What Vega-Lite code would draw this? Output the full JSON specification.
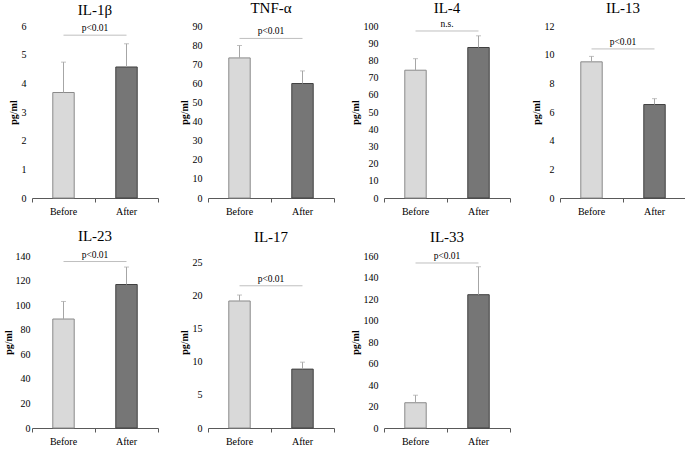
{
  "$schema": "https://vega.github.io/schema/vega-lite/v6.json",
  "padding": {"left": 3, "top": 0, "right": 0, "bottom": 0},
  "background": "white",
  "datasets": {
    "bars": [
      {"cytokine": "IL-1β", "group": "Before", "mean": 3.68, "upper": 4.74},
      {"cytokine": "IL-1β", "group": "After", "mean": 4.57, "upper": 5.38},
      {"cytokine": "TNF-α", "group": "Before", "mean": 73.3, "upper": 79.8},
      {"cytokine": "TNF-α", "group": "After", "mean": 59.9, "upper": 66.5},
      {"cytokine": "IL-4", "group": "Before", "mean": 74.3, "upper": 81.0},
      {"cytokine": "IL-4", "group": "After", "mean": 87.5, "upper": 94.3},
      {"cytokine": "IL-13", "group": "Before", "mean": 9.5, "upper": 9.88},
      {"cytokine": "IL-13", "group": "After", "mean": 6.52, "upper": 6.93},
      {"cytokine": "IL-23", "group": "Before", "mean": 88.7, "upper": 103},
      {"cytokine": "IL-23", "group": "After", "mean": 116.8, "upper": 131},
      {"cytokine": "IL-17", "group": "Before", "mean": 19.2, "upper": 20.1},
      {"cytokine": "IL-17", "group": "After", "mean": 8.9, "upper": 9.95},
      {"cytokine": "IL-33", "group": "Before", "mean": 23.5, "upper": 30.5},
      {"cytokine": "IL-33", "group": "After", "mean": 124, "upper": 150}
    ],
    "sig": [
      {"cytokine": "IL-1β", "from": "Before", "to": "After", "level": 5.68, "label": "p<0.01"},
      {"cytokine": "TNF-α", "from": "Before", "to": "After", "level": 83.5, "label": "p<0.01"},
      {"cytokine": "IL-4", "from": "Before", "to": "After", "level": 97.1, "label": "n.s."},
      {"cytokine": "IL-13", "from": "Before", "to": "After", "level": 10.4, "label": "p<0.01"},
      {"cytokine": "IL-23", "from": "Before", "to": "After", "level": 135.5, "label": "p<0.01"},
      {"cytokine": "IL-17", "from": "Before", "to": "After", "level": 21.5, "label": "p<0.01"},
      {"cytokine": "IL-33", "from": "Before", "to": "After", "level": 153.5, "label": "p<0.01"}
    ]
  },
  "columns": 4,
  "bounds": "flush",
  "spacing": {"row": 58, "column": 50},
  "concat": [
    {
      "title": {"text": "IL-1β", "offset": 3}, "width": 126, "height": 172,
      "layer": [
        {"data": {"name": "bars"}, "transform": [{"filter": "datum.cytokine === 'IL-1β'"}],
         "mark": {"type": "bar", "width": {"band": 0.34}, "strokeWidth": 1},
         "encoding": {
           "x": {"field": "group", "type": "nominal", "sort": ["Before", "After"], "scale": {"domain": ["Before", "After"], "paddingInner": 0, "paddingOuter": 0}, "title": null},
           "y": {"field": "mean", "type": "quantitative", "scale": {"domain": [0, 6]}, "axis": {"values": [0, 1, 2, 3, 4, 5, 6], "labelPadding": 6}, "title": "pg/ml"},
           "fill": {"field": "group", "type": "nominal", "scale": {"domain": ["Before", "After"], "range": ["#d9d9d9", "#767676"]}, "legend": null},
           "stroke": {"field": "group", "type": "nominal", "scale": {"domain": ["Before", "After"], "range": ["#8a8a8a", "#404040"]}, "legend": null}
         }},
        {"data": {"name": "bars"}, "transform": [{"filter": "datum.cytokine === 'IL-1β'"}],
         "mark": {"type": "rule", "color": "#a6a6a6", "strokeWidth": 1},
         "encoding": {"x": {"field": "group", "type": "nominal"}, "y": {"field": "mean", "type": "quantitative", "axis": {"values": [0, 1, 2, 3, 4, 5, 6], "labelPadding": 6}, "title": "pg/ml"}, "y2": {"field": "upper"}}},
        {"data": {"name": "bars"}, "transform": [{"filter": "datum.cytokine === 'IL-1β'"}],
         "mark": {"type": "tick", "color": "#a6a6a6", "size": 5, "thickness": 1},
         "encoding": {"x": {"field": "group", "type": "nominal"}, "y": {"field": "upper", "type": "quantitative", "axis": {"values": [0, 1, 2, 3, 4, 5, 6], "labelPadding": 6}, "title": "pg/ml"}}},
        {"data": {"name": "sig"}, "transform": [{"filter": "datum.cytokine === 'IL-1β'"}],
         "mark": {"type": "rule", "color": "#bfbfbf", "strokeWidth": 1},
         "encoding": {"x": {"field": "from", "type": "nominal"}, "x2": {"field": "to"}, "y": {"field": "level", "type": "quantitative", "axis": {"values": [0, 1, 2, 3, 4, 5, 6], "labelPadding": 6}, "title": "pg/ml"}}},
        {"data": {"name": "sig"}, "transform": [{"filter": "datum.cytokine === 'IL-1β'"}],
         "mark": {"type": "text", "baseline": "bottom", "dy": -2, "fontSize": 9.5},
         "encoding": {"y": {"field": "level", "type": "quantitative", "axis": {"values": [0, 1, 2, 3, 4, 5, 6], "labelPadding": 6}, "title": "pg/ml"}, "text": {"field": "label"}}}
      ]
    },
    {
      "title": {"text": "TNF-α", "offset": 5}, "width": 126, "height": 172,
      "layer": [
        {"data": {"name": "bars"}, "transform": [{"filter": "datum.cytokine === 'TNF-α'"}],
         "mark": {"type": "bar", "width": {"band": 0.34}, "strokeWidth": 1},
         "encoding": {
           "x": {"field": "group", "type": "nominal", "sort": ["Before", "After"], "scale": {"domain": ["Before", "After"], "paddingInner": 0, "paddingOuter": 0}, "title": null},
           "y": {"field": "mean", "type": "quantitative", "scale": {"domain": [0, 90]}, "axis": {"values": [0, 10, 20, 30, 40, 50, 60, 70, 80, 90], "labelPadding": 6}, "title": "pg/ml"},
           "fill": {"field": "group", "type": "nominal", "scale": {"domain": ["Before", "After"], "range": ["#d9d9d9", "#767676"]}, "legend": null},
           "stroke": {"field": "group", "type": "nominal", "scale": {"domain": ["Before", "After"], "range": ["#8a8a8a", "#404040"]}, "legend": null}
         }},
        {"data": {"name": "bars"}, "transform": [{"filter": "datum.cytokine === 'TNF-α'"}],
         "mark": {"type": "rule", "color": "#a6a6a6", "strokeWidth": 1},
         "encoding": {"x": {"field": "group", "type": "nominal"}, "y": {"field": "mean", "type": "quantitative", "axis": {"values": [0, 10, 20, 30, 40, 50, 60, 70, 80, 90], "labelPadding": 6}, "title": "pg/ml"}, "y2": {"field": "upper"}}},
        {"data": {"name": "bars"}, "transform": [{"filter": "datum.cytokine === 'TNF-α'"}],
         "mark": {"type": "tick", "color": "#a6a6a6", "size": 5, "thickness": 1},
         "encoding": {"x": {"field": "group", "type": "nominal"}, "y": {"field": "upper", "type": "quantitative", "axis": {"values": [0, 10, 20, 30, 40, 50, 60, 70, 80, 90], "labelPadding": 6}, "title": "pg/ml"}}},
        {"data": {"name": "sig"}, "transform": [{"filter": "datum.cytokine === 'TNF-α'"}],
         "mark": {"type": "rule", "color": "#bfbfbf", "strokeWidth": 1},
         "encoding": {"x": {"field": "from", "type": "nominal"}, "x2": {"field": "to"}, "y": {"field": "level", "type": "quantitative", "axis": {"values": [0, 10, 20, 30, 40, 50, 60, 70, 80, 90], "labelPadding": 6}, "title": "pg/ml"}}},
        {"data": {"name": "sig"}, "transform": [{"filter": "datum.cytokine === 'TNF-α'"}],
         "mark": {"type": "text", "baseline": "bottom", "dy": -2, "fontSize": 9.5},
         "encoding": {"y": {"field": "level", "type": "quantitative", "axis": {"values": [0, 10, 20, 30, 40, 50, 60, 70, 80, 90], "labelPadding": 6}, "title": "pg/ml"}, "text": {"field": "label"}}}
      ]
    },
    {
      "title": {"text": "IL-4", "offset": 3}, "width": 126, "height": 172,
      "layer": [
        {"data": {"name": "bars"}, "transform": [{"filter": "datum.cytokine === 'IL-4'"}],
         "mark": {"type": "bar", "width": {"band": 0.34}, "strokeWidth": 1},
         "encoding": {
           "x": {"field": "group", "type": "nominal", "sort": ["Before", "After"], "scale": {"domain": ["Before", "After"], "paddingInner": 0, "paddingOuter": 0}, "title": null},
           "y": {"field": "mean", "type": "quantitative", "scale": {"domain": [0, 100]}, "axis": {"values": [0, 10, 20, 30, 40, 50, 60, 70, 80, 90, 100], "labelPadding": 6}, "title": "pg/ml"},
           "fill": {"field": "group", "type": "nominal", "scale": {"domain": ["Before", "After"], "range": ["#d9d9d9", "#767676"]}, "legend": null},
           "stroke": {"field": "group", "type": "nominal", "scale": {"domain": ["Before", "After"], "range": ["#8a8a8a", "#404040"]}, "legend": null}
         }},
        {"data": {"name": "bars"}, "transform": [{"filter": "datum.cytokine === 'IL-4'"}],
         "mark": {"type": "rule", "color": "#a6a6a6", "strokeWidth": 1},
         "encoding": {"x": {"field": "group", "type": "nominal"}, "y": {"field": "mean", "type": "quantitative", "axis": {"values": [0, 10, 20, 30, 40, 50, 60, 70, 80, 90, 100], "labelPadding": 6}, "title": "pg/ml"}, "y2": {"field": "upper"}}},
        {"data": {"name": "bars"}, "transform": [{"filter": "datum.cytokine === 'IL-4'"}],
         "mark": {"type": "tick", "color": "#a6a6a6", "size": 5, "thickness": 1},
         "encoding": {"x": {"field": "group", "type": "nominal"}, "y": {"field": "upper", "type": "quantitative", "axis": {"values": [0, 10, 20, 30, 40, 50, 60, 70, 80, 90, 100], "labelPadding": 6}, "title": "pg/ml"}}},
        {"data": {"name": "sig"}, "transform": [{"filter": "datum.cytokine === 'IL-4'"}],
         "mark": {"type": "rule", "color": "#bfbfbf", "strokeWidth": 1},
         "encoding": {"x": {"field": "from", "type": "nominal"}, "x2": {"field": "to"}, "y": {"field": "level", "type": "quantitative", "axis": {"values": [0, 10, 20, 30, 40, 50, 60, 70, 80, 90, 100], "labelPadding": 6}, "title": "pg/ml"}}},
        {"data": {"name": "sig"}, "transform": [{"filter": "datum.cytokine === 'IL-4'"}],
         "mark": {"type": "text", "baseline": "bottom", "dy": -2, "fontSize": 9.5},
         "encoding": {"y": {"field": "level", "type": "quantitative", "axis": {"values": [0, 10, 20, 30, 40, 50, 60, 70, 80, 90, 100], "labelPadding": 6}, "title": "pg/ml"}, "text": {"field": "label"}}}
      ]
    },
    {
      "title": {"text": "IL-13", "offset": 5}, "width": 126, "height": 172,
      "layer": [
        {"data": {"name": "bars"}, "transform": [{"filter": "datum.cytokine === 'IL-13'"}],
         "mark": {"type": "bar", "width": {"band": 0.34}, "strokeWidth": 1},
         "encoding": {
           "x": {"field": "group", "type": "nominal", "sort": ["Before", "After"], "scale": {"domain": ["Before", "After"], "paddingInner": 0, "paddingOuter": 0}, "title": null},
           "y": {"field": "mean", "type": "quantitative", "scale": {"domain": [0, 12]}, "axis": {"values": [0, 2, 4, 6, 8, 10, 12], "labelPadding": 6}, "title": "pg/ml"},
           "fill": {"field": "group", "type": "nominal", "scale": {"domain": ["Before", "After"], "range": ["#d9d9d9", "#767676"]}, "legend": null},
           "stroke": {"field": "group", "type": "nominal", "scale": {"domain": ["Before", "After"], "range": ["#8a8a8a", "#404040"]}, "legend": null}
         }},
        {"data": {"name": "bars"}, "transform": [{"filter": "datum.cytokine === 'IL-13'"}],
         "mark": {"type": "rule", "color": "#a6a6a6", "strokeWidth": 1},
         "encoding": {"x": {"field": "group", "type": "nominal"}, "y": {"field": "mean", "type": "quantitative", "axis": {"values": [0, 2, 4, 6, 8, 10, 12], "labelPadding": 6}, "title": "pg/ml"}, "y2": {"field": "upper"}}},
        {"data": {"name": "bars"}, "transform": [{"filter": "datum.cytokine === 'IL-13'"}],
         "mark": {"type": "tick", "color": "#a6a6a6", "size": 5, "thickness": 1},
         "encoding": {"x": {"field": "group", "type": "nominal"}, "y": {"field": "upper", "type": "quantitative", "axis": {"values": [0, 2, 4, 6, 8, 10, 12], "labelPadding": 6}, "title": "pg/ml"}}},
        {"data": {"name": "sig"}, "transform": [{"filter": "datum.cytokine === 'IL-13'"}],
         "mark": {"type": "rule", "color": "#bfbfbf", "strokeWidth": 1},
         "encoding": {"x": {"field": "from", "type": "nominal"}, "x2": {"field": "to"}, "y": {"field": "level", "type": "quantitative", "axis": {"values": [0, 2, 4, 6, 8, 10, 12], "labelPadding": 6}, "title": "pg/ml"}}},
        {"data": {"name": "sig"}, "transform": [{"filter": "datum.cytokine === 'IL-13'"}],
         "mark": {"type": "text", "baseline": "bottom", "dy": -2, "fontSize": 9.5},
         "encoding": {"y": {"field": "level", "type": "quantitative", "axis": {"values": [0, 2, 4, 6, 8, 10, 12], "labelPadding": 6}, "title": "pg/ml"}, "text": {"field": "label"}}}
      ]
    },
    {
      "title": {"text": "IL-23", "offset": 6}, "width": 126, "height": 172,
      "layer": [
        {"data": {"name": "bars"}, "transform": [{"filter": "datum.cytokine === 'IL-23'"}],
         "mark": {"type": "bar", "width": {"band": 0.34}, "strokeWidth": 1},
         "encoding": {
           "x": {"field": "group", "type": "nominal", "sort": ["Before", "After"], "scale": {"domain": ["Before", "After"], "paddingInner": 0, "paddingOuter": 0}, "title": null},
           "y": {"field": "mean", "type": "quantitative", "scale": {"domain": [0, 140]}, "axis": {"values": [0, 20, 40, 60, 80, 100, 120, 140], "labelPadding": 2, "titlePadding": 2}, "title": "pg/ml"},
           "fill": {"field": "group", "type": "nominal", "scale": {"domain": ["Before", "After"], "range": ["#d9d9d9", "#767676"]}, "legend": null},
           "stroke": {"field": "group", "type": "nominal", "scale": {"domain": ["Before", "After"], "range": ["#8a8a8a", "#404040"]}, "legend": null}
         }},
        {"data": {"name": "bars"}, "transform": [{"filter": "datum.cytokine === 'IL-23'"}],
         "mark": {"type": "rule", "color": "#a6a6a6", "strokeWidth": 1},
         "encoding": {"x": {"field": "group", "type": "nominal"}, "y": {"field": "mean", "type": "quantitative", "axis": {"values": [0, 20, 40, 60, 80, 100, 120, 140], "labelPadding": 2, "titlePadding": 2}, "title": "pg/ml"}, "y2": {"field": "upper"}}},
        {"data": {"name": "bars"}, "transform": [{"filter": "datum.cytokine === 'IL-23'"}],
         "mark": {"type": "tick", "color": "#a6a6a6", "size": 5, "thickness": 1},
         "encoding": {"x": {"field": "group", "type": "nominal"}, "y": {"field": "upper", "type": "quantitative", "axis": {"values": [0, 20, 40, 60, 80, 100, 120, 140], "labelPadding": 2, "titlePadding": 2}, "title": "pg/ml"}}},
        {"data": {"name": "sig"}, "transform": [{"filter": "datum.cytokine === 'IL-23'"}],
         "mark": {"type": "rule", "color": "#bfbfbf", "strokeWidth": 1},
         "encoding": {"x": {"field": "from", "type": "nominal"}, "x2": {"field": "to"}, "y": {"field": "level", "type": "quantitative", "axis": {"values": [0, 20, 40, 60, 80, 100, 120, 140], "labelPadding": 2, "titlePadding": 2}, "title": "pg/ml"}}},
        {"data": {"name": "sig"}, "transform": [{"filter": "datum.cytokine === 'IL-23'"}],
         "mark": {"type": "text", "baseline": "bottom", "dy": -2, "fontSize": 9.5},
         "encoding": {"y": {"field": "level", "type": "quantitative", "axis": {"values": [0, 20, 40, 60, 80, 100, 120, 140], "labelPadding": 2, "titlePadding": 2}, "title": "pg/ml"}, "text": {"field": "label"}}}
      ]
    },
    {
      "title": {"text": "IL-17", "offset": 11}, "width": 126, "height": 172,
      "layer": [
        {"data": {"name": "bars"}, "transform": [{"filter": "datum.cytokine === 'IL-17'"}],
         "mark": {"type": "bar", "width": {"band": 0.34}, "strokeWidth": 1},
         "encoding": {
           "x": {"field": "group", "type": "nominal", "sort": ["Before", "After"], "scale": {"domain": ["Before", "After"], "paddingInner": 0, "paddingOuter": 0}, "title": null},
           "y": {"field": "mean", "type": "quantitative", "scale": {"domain": [0, 25]}, "axis": {"values": [0, 5, 10, 15, 20, 25], "labelPadding": 6}, "title": "pg/ml"},
           "fill": {"field": "group", "type": "nominal", "scale": {"domain": ["Before", "After"], "range": ["#d9d9d9", "#767676"]}, "legend": null},
           "stroke": {"field": "group", "type": "nominal", "scale": {"domain": ["Before", "After"], "range": ["#8a8a8a", "#404040"]}, "legend": null}
         }},
        {"data": {"name": "bars"}, "transform": [{"filter": "datum.cytokine === 'IL-17'"}],
         "mark": {"type": "rule", "color": "#a6a6a6", "strokeWidth": 1},
         "encoding": {"x": {"field": "group", "type": "nominal"}, "y": {"field": "mean", "type": "quantitative", "axis": {"values": [0, 5, 10, 15, 20, 25], "labelPadding": 6}, "title": "pg/ml"}, "y2": {"field": "upper"}}},
        {"data": {"name": "bars"}, "transform": [{"filter": "datum.cytokine === 'IL-17'"}],
         "mark": {"type": "tick", "color": "#a6a6a6", "size": 5, "thickness": 1},
         "encoding": {"x": {"field": "group", "type": "nominal"}, "y": {"field": "upper", "type": "quantitative", "axis": {"values": [0, 5, 10, 15, 20, 25], "labelPadding": 6}, "title": "pg/ml"}}},
        {"data": {"name": "sig"}, "transform": [{"filter": "datum.cytokine === 'IL-17'"}],
         "mark": {"type": "rule", "color": "#bfbfbf", "strokeWidth": 1},
         "encoding": {"x": {"field": "from", "type": "nominal"}, "x2": {"field": "to"}, "y": {"field": "level", "type": "quantitative", "axis": {"values": [0, 5, 10, 15, 20, 25], "labelPadding": 6}, "title": "pg/ml"}}},
        {"data": {"name": "sig"}, "transform": [{"filter": "datum.cytokine === 'IL-17'"}],
         "mark": {"type": "text", "baseline": "bottom", "dy": -2, "fontSize": 9.5},
         "encoding": {"y": {"field": "level", "type": "quantitative", "axis": {"values": [0, 5, 10, 15, 20, 25], "labelPadding": 6}, "title": "pg/ml"}, "text": {"field": "label"}}}
      ]
    },
    {
      "title": {"text": "IL-33", "offset": 6}, "width": 126, "height": 172,
      "layer": [
        {"data": {"name": "bars"}, "transform": [{"filter": "datum.cytokine === 'IL-33'"}],
         "mark": {"type": "bar", "width": {"band": 0.34}, "strokeWidth": 1},
         "encoding": {
           "x": {"field": "group", "type": "nominal", "sort": ["Before", "After"], "scale": {"domain": ["Before", "After"], "paddingInner": 0, "paddingOuter": 0}, "title": null},
           "y": {"field": "mean", "type": "quantitative", "scale": {"domain": [0, 160]}, "axis": {"values": [0, 20, 40, 60, 80, 100, 120, 140, 160], "labelPadding": 6}, "title": "pg/ml"},
           "fill": {"field": "group", "type": "nominal", "scale": {"domain": ["Before", "After"], "range": ["#d9d9d9", "#767676"]}, "legend": null},
           "stroke": {"field": "group", "type": "nominal", "scale": {"domain": ["Before", "After"], "range": ["#8a8a8a", "#404040"]}, "legend": null}
         }},
        {"data": {"name": "bars"}, "transform": [{"filter": "datum.cytokine === 'IL-33'"}],
         "mark": {"type": "rule", "color": "#a6a6a6", "strokeWidth": 1},
         "encoding": {"x": {"field": "group", "type": "nominal"}, "y": {"field": "mean", "type": "quantitative", "axis": {"values": [0, 20, 40, 60, 80, 100, 120, 140, 160], "labelPadding": 6}, "title": "pg/ml"}, "y2": {"field": "upper"}}},
        {"data": {"name": "bars"}, "transform": [{"filter": "datum.cytokine === 'IL-33'"}],
         "mark": {"type": "tick", "color": "#a6a6a6", "size": 5, "thickness": 1},
         "encoding": {"x": {"field": "group", "type": "nominal"}, "y": {"field": "upper", "type": "quantitative", "axis": {"values": [0, 20, 40, 60, 80, 100, 120, 140, 160], "labelPadding": 6}, "title": "pg/ml"}}},
        {"data": {"name": "sig"}, "transform": [{"filter": "datum.cytokine === 'IL-33'"}],
         "mark": {"type": "rule", "color": "#bfbfbf", "strokeWidth": 1},
         "encoding": {"x": {"field": "from", "type": "nominal"}, "x2": {"field": "to"}, "y": {"field": "level", "type": "quantitative", "axis": {"values": [0, 20, 40, 60, 80, 100, 120, 140, 160], "labelPadding": 6}, "title": "pg/ml"}}},
        {"data": {"name": "sig"}, "transform": [{"filter": "datum.cytokine === 'IL-33'"}],
         "mark": {"type": "text", "baseline": "bottom", "dy": -2, "fontSize": 9.5},
         "encoding": {"y": {"field": "level", "type": "quantitative", "axis": {"values": [0, 20, 40, 60, 80, 100, 120, 140, 160], "labelPadding": 6}, "title": "pg/ml"}, "text": {"field": "label"}}}
      ]
    }
  ],
  "config": {
    "view": {"stroke": null},
    "font": "Liberation Serif",
    "text": {"font": "Liberation Serif", "color": "#000000"},
    "title": {"font": "Liberation Serif", "fontSize": 15, "fontWeight": "normal", "color": "#000000"},
    "axis": {"labelFont": "Liberation Serif", "titleFont": "Liberation Serif", "labelColor": "#000000", "titleColor": "#000000", "grid": false, "labelOverlap": false},
    "axisY": {"domain": false, "ticks": false, "labelFontSize": 10, "labelPadding": 4, "titleFontSize": 10, "titleFontWeight": "bold", "titlePadding": 3},
    "axisX": {"domainColor": "#595959", "tickColor": "#595959", "tickSize": 4, "bandPosition": 1, "tickExtra": true, "labelFontSize": 10, "labelPadding": 4, "labelAngle": 0}
  }
}
